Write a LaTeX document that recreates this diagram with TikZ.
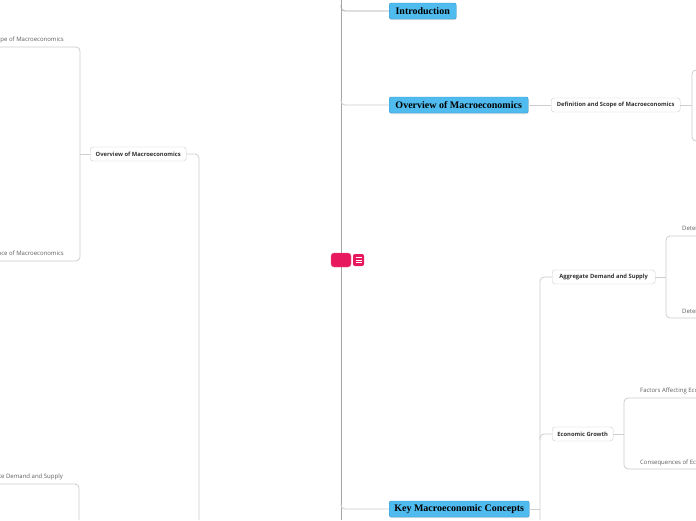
\documentclass[tikz,border=0pt]{standalone}
\usepackage{fontspec}
\setmainfont{Liberation Serif}
\setsansfont{Open Sans}
\usetikzlibrary{positioning,calc,shadows}
\definecolor{mmpink}{RGB}{232,24,94}
\definecolor{mmblue}{RGB}{80,187,238}
\definecolor{mmblueb}{RGB}{42,152,212}
\definecolor{mmline}{RGB}{206,206,206}
\definecolor{mmtrunk}{RGB}{165,165,165}
\definecolor{mmtext}{RGB}{50,50,50}
\definecolor{mmleaf}{RGB}{95,95,95}
\tikzset{
  topicbox/.style={draw=mmblueb, fill=mmblue, rounded corners=2pt, anchor=west,
                   minimum height=16pt, inner sep=0pt, text=black,
                   font=\bfseries\fontsize{10}{11}\selectfont,
                   drop shadow={opacity=0.25, shadow xshift=0.4pt, shadow yshift=-1pt}},
  subbox/.style={draw=mmline, fill=white, rounded corners=3pt, anchor=west,
                 minimum height=14pt, inner sep=0pt, text=mmtext,
                 font=\sffamily\bfseries\fontsize{5.8}{7}\selectfont},
  leaflab/.style={inner sep=0pt, text=mmleaf, font=\sffamily\fontsize{6}{7}\selectfont},
  branch/.style={mmline, line width=0.8pt, rounded corners=4pt},
  trunk/.style={mmtrunk, line width=0.8pt},
}
\begin{document}
\begin{tikzpicture}[x=1pt, y=-1pt]
  \clip (0,0) rectangle (696,520);
  \fill[white] (0,0) rectangle (696,520);

  % central trunk
  \coordinate (ttop) at (341,0);
  \coordinate (tbot) at (341,520);
  \draw[trunk] (ttop) -- (tbot);

  % main topics
  \node[topicbox, minimum width=67pt] (intro) at (389,11) {Introduction};
  \node[topicbox, minimum width=139pt] (overview) at (389,105) {Overview of Macroeconomics};
  \node[topicbox, minimum width=140pt] (key) at (389,509) {Key Macroeconomic Concepts};

  \draw[trunk, rounded corners=4pt] (341,5) -- (341,11) -- (intro.west);
  \draw[branch] (341,99) -- (341,105) -- (overview.west);
  \draw[branch] (341,503) -- (341,509) -- (key.west);

  % centre
  \node[fill=mmpink, draw=mmpink!70, rounded corners=3pt, minimum width=20pt,
        minimum height=14pt, inner sep=0pt] (root) at (341,260) {};
  \node[fill=mmpink, rounded corners=2pt, minimum width=11pt, minimum height=12pt,
        inner sep=0pt] (menu) at (358.5,260) {};
  \foreach \k in {-1,0,1}
    \draw[white, line width=0.7pt] ($(menu.center)+(-3,\k*2.6)$) -- ++(6,0);

  % overview subtree (right)
  \node[subbox, minimum width=129pt] (defscope) at (551,105) {Definition and Scope of Macroeconomics};
  \draw[branch] (overview.east) -- (defscope.west);
  \coordinate (dtop) at (700,70);
  \coordinate (dbot) at (700,141);
  \draw[branch] (defscope.east) -- (692,105);
  \draw[branch] (dtop) -- (692,70) -- (692,141) -- (dbot);

  % key concepts subtree
  \node[subbox, minimum width=103pt] (aggds) at (552,277) {Aggregate Demand and Supply};
  \node[subbox, minimum width=61pt] (growth) at (552,434) {Economic Growth};
  \coordinate (kbot) at (540,520);
  \draw[branch] (key.east) -- (540,509);
  \draw[branch] (aggds.west) -- (540,277) -- (kbot);
  \draw[branch] (growth.west) -- (540,434) -- (540,440);

  % aggregate demand and supply leaves
  \node[leaflab, anchor=west] (detad) at (682,229) {Determinants of Aggregate Demand};
  \node[leaflab, anchor=west] (detas) at (682,312) {Determinants of Aggregate Supply};
  \draw[branch] (aggds.east) -- (666,277);
  \draw[branch] (detad.south east |- 0,236) -- (666,236) -- (666,318) -- (detas.south east |- 0,318);

  % economic growth leaves
  \node[leaflab, anchor=west] (factors) at (640,391) {Factors Affecting Economic Growth};
  \node[leaflab, anchor=west] (conseq) at (640,463) {Consequences of Economic Growth};
  \draw[branch] (growth.east) -- (624,434);
  \draw[branch] (factors.south east |- 0,398) -- (624,398) -- (624,469) -- (conseq.south east |- 0,469);

  % left part of the map
  \node[subbox, minimum width=96pt] (ovleft) at (90,154) {Overview of Macroeconomics};
  \coordinate (lbot) at (199,520);
  \draw[branch] (ovleft.east) -- (199,154) -- (lbot);

  \node[leaflab, anchor=east] (defleft) at (64,40) {Definition and Scope of Macroeconomics};
  \node[leaflab, anchor=east] (impleft) at (64,254) {Importance of Macroeconomics};
  \draw[branch] (ovleft.west) -- (80,154);
  \draw[branch] (defleft.south west |- 0,47) -- (80,47) -- (80,261) -- (impleft.south west |- 0,261);

  \node[leaflab, anchor=east] (aggleft) at (63,477) {Aggregate Demand and Supply};
  \coordinate (albot) at (79,520);
  \draw[branch] (aggleft.south west |- 0,484) -- (79,484) -- (albot);
\end{tikzpicture}
\end{document}
